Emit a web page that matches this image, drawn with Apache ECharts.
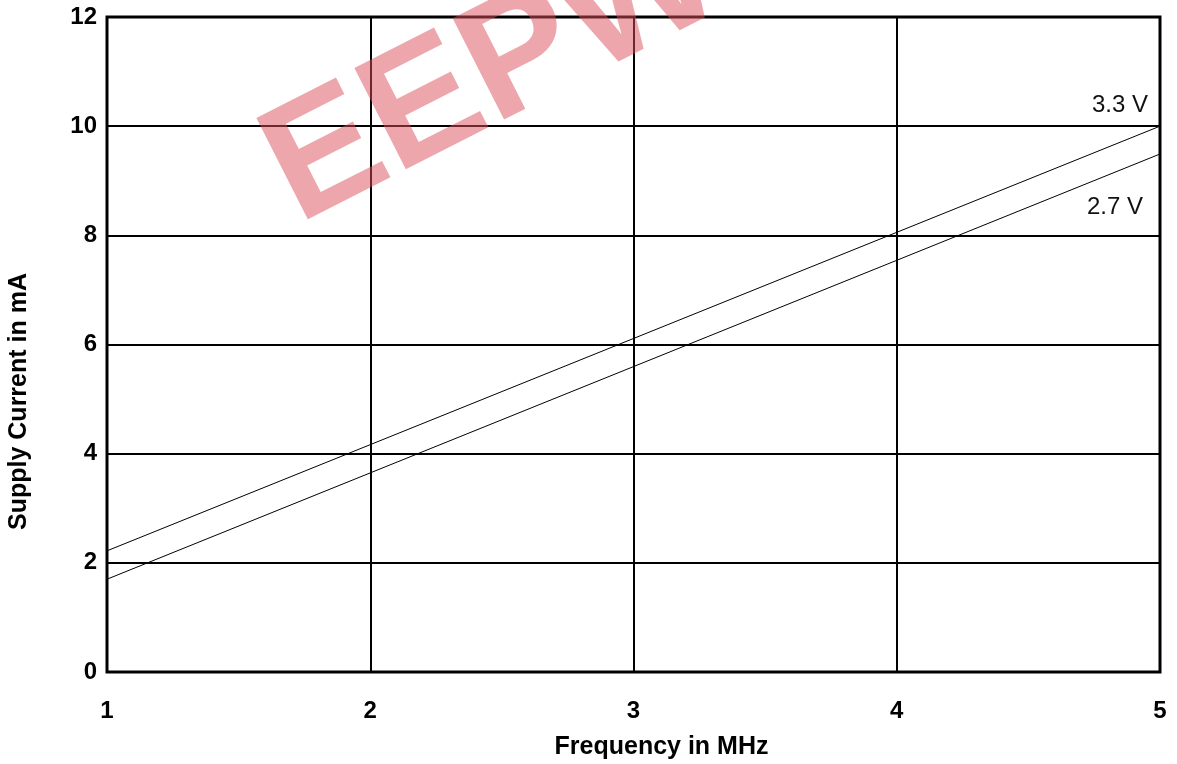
<!DOCTYPE html>
<html><head><meta charset="utf-8">
<script src="https://cdn.jsdelivr.net/npm/echarts@6/dist/echarts.min.js"></script>
<style>html,body{margin:0;padding:0;background:#fff;}#c{width:1177px;height:764px;}</style>
</head><body><div id="c"></div>
<script>
const freqMHz = [1, 5];
const current33V = [2.22, 10.0];
const current27V = [1.70, 9.49];
const seriesNames = ['3.3 V', '2.7 V'];
const xTicks = [1, 2, 3, 4, 5];
const yTicks = [0, 2, 4, 6, 8, 10, 12];

const chart = echarts.init(document.getElementById('c'));
const font = '"Liberation Sans", Arial, sans-serif';
function mk(name, ys, offset) {
  return {
    name: name, type: 'line', symbol: 'none', silent: true,
    lineStyle: {color: '#000', width: 1},
    data: freqMHz.map((x, i) => [x, ys[i]]),
    endLabel: {show: true, formatter: name, offset: offset, distance: 0,
      align: 'center', verticalAlign: 'middle',
      color: '#111', fontFamily: font, fontSize: 24},
    z: 3
  };
}
chart.setOption({
  animation: false,
  graphic: [{
    type: 'text', left: 240, top: -110, rotation: 0.47, z: 100,
    style: {text: 'EEPW', fontSize: 165, fontWeight: 'bold', fontFamily: font,
      fill: 'rgba(220,80,90,0.5)'}
  }],
  grid: {left: 107, right: 17, top: 17, bottom: 92, show: true,
    borderColor: '#000', borderWidth: 3, z: 2, outerBoundsMode: 'none', containLabel: false},
  xAxis: {
    type: 'value', min: 1, max: 5, interval: 1,
    name: 'Frequency in MHz', nameLocation: 'middle', nameGap: 63,
    nameTextStyle: {fontFamily: font, fontWeight: 'bold', fontSize: 25, color: '#000',
      padding: [0, 0, 0, 56]},
    axisLine: {show: false}, axisTick: {show: false},
    axisLabel: {margin: 27, fontFamily: font, fontWeight: 'bold', fontSize: 24, color: '#000',
      formatter: v => xTicks.includes(v) ? String(v) : ''},
    splitLine: {show: true, lineStyle: {color: '#000', width: 2}}
  },
  yAxis: {
    type: 'value', min: 0, max: 12, interval: 2,
    name: 'Supply Current in mA', nameLocation: 'middle', nameGap: 75,
    nameTextStyle: {fontFamily: font, fontWeight: 'bold', fontSize: 25, color: '#000',
      padding: [0, 114, 0, 0]},
    axisLine: {show: false}, axisTick: {show: false},
    axisLabel: {margin: 10, fontFamily: font, fontWeight: 'bold', fontSize: 24, color: '#000',
      formatter: v => yTicks.includes(v) ? String(v) : ''},
    splitLine: {show: true, lineStyle: {color: '#000', width: 2}}
  },
  series: [mk(seriesNames[0], current33V, [-40, -21]), mk(seriesNames[1], current27V, [-45, 53])]
});
</script></body></html>
